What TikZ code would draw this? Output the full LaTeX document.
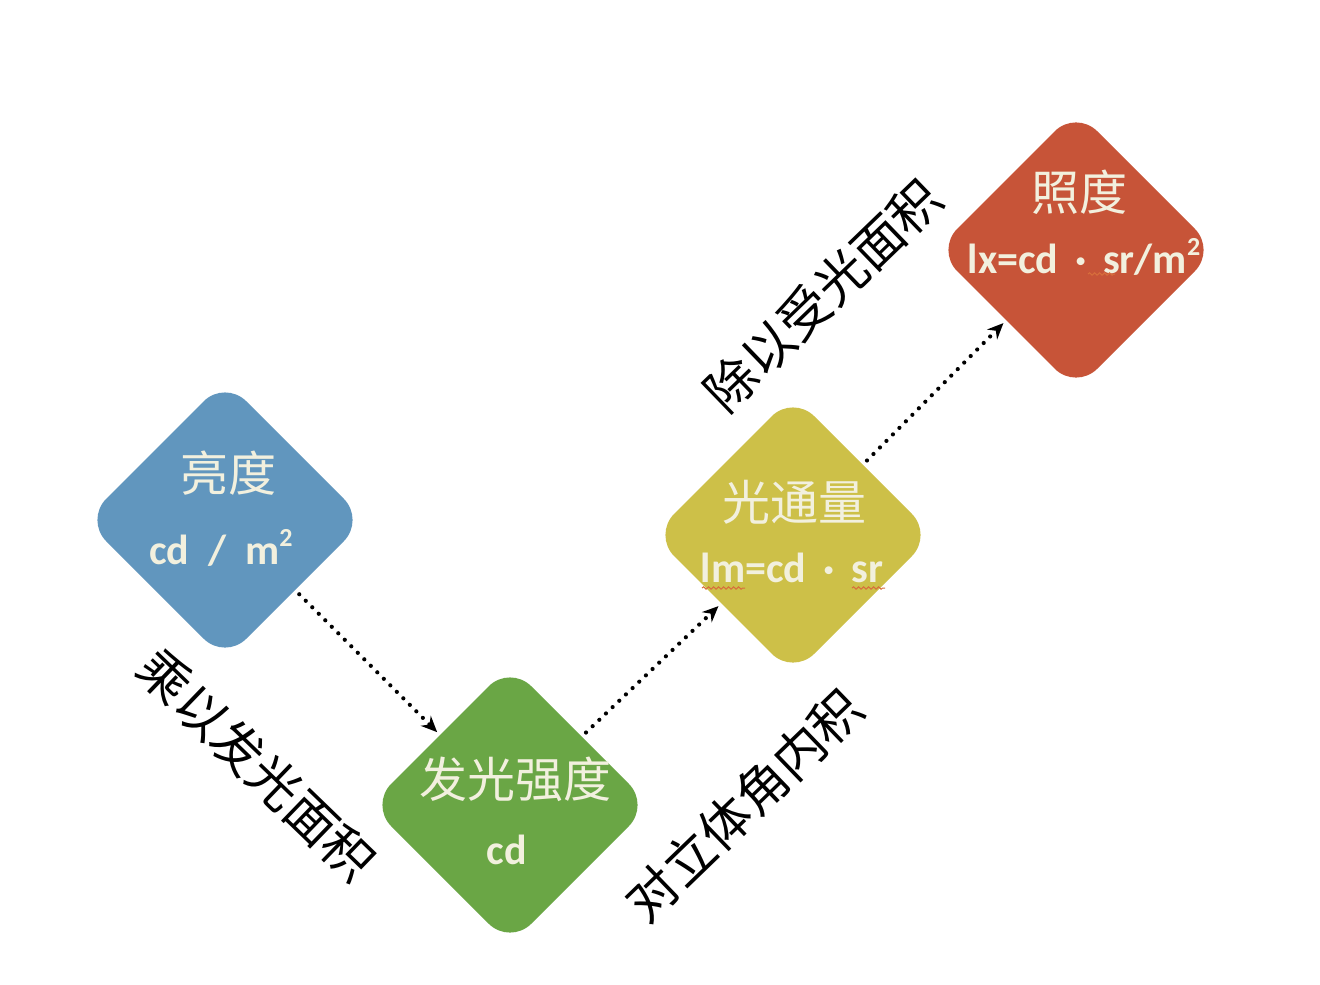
\documentclass[tikz,border=0pt]{standalone}
\usepackage{fontspec}
\setmainfont{Carlito}
\newfontfamily\cjk{Noto Sans CJK SC}
\usetikzlibrary{shapes.geometric,arrows.meta,decorations.pathmorphing}
\definecolor{cblue}{RGB}{97,150,190}
\definecolor{cgreen}{RGB}{106,166,69}
\definecolor{cyellow}{RGB}{205,192,72}
\definecolor{cred}{RGB}{199,84,56}
\definecolor{cream}{RGB}{242,240,222}
\definecolor{squigred}{RGB}{215,110,60}
\newcommand{\sqr}{\raisebox{0.42em}{\fontsize{13pt}{13pt}\selectfont 2}}
\begin{document}
\begin{tikzpicture}[x=0.5pt,y=-0.5pt,
  gem/.style={diamond, minimum width=140pt, minimum height=140pt, inner sep=0pt, outer sep=0pt, rounded corners=15pt},
  title/.style={text=cream, font=\cjk\fontsize{24pt}{28pt}\selectfont, inner sep=0pt},
  unit/.style={text=cream, font=\bfseries\fontsize{21pt}{24pt}\selectfont, inner sep=0pt},
  lab/.style={font=\cjk\fontsize{25.5pt}{30pt}\selectfont, inner sep=0pt},
  conn/.style={line width=2.1pt, dash pattern=on 0pt off 4.6pt, line cap=round, -{Stealth[length=8pt,width=7pt]}, shorten <=3pt, shorten >=2pt},
  squig/.style={draw=squigred, line width=0.5pt, decorate, decoration={snake, amplitude=0.6pt, segment length=2.5pt}}]
\useasboundingbox (0,0) rectangle (1320,984);
\fill[white] (0,0) rectangle (1320,984);
% diamonds
\node[gem, fill=cblue] (b) at (225,520) {};
\node[gem, fill=cgreen] (g) at (510,805) {};
\node[gem, fill=cyellow] (y) at (793,535) {};
\node[gem, fill=cred] (r) at (1076,250) {};
% texts
\node[title] (bt) at (228,473) {亮度};
\node[unit] (bu) at (221,548) {cd\hspace{0.45em}/\hspace{0.45em}m\sqr};
\node[title] (gt) at (515,779) {发光强度};
\node[unit] (gu) at (507,850) {cd};
\node[title] (yt) at (794,502) {光通量};
\node[unit] (yu) at (792,568) {lm=cd\hspace{0.4em}·\hspace{0.4em}sr};
\node[title] (rt) at (1079,192) {照度};
\node[unit] (ru) at (1084,257) {lx=cd\hspace{0.4em}·\hspace{0.4em}sr/m\sqr};
% squiggles
\draw[squig] (702,588) -- (745,588);
\draw[squig] (852,588) -- (885,588);
\draw[squig] (1088,274) -- (1115,274);
% rotated labels
\node[lab, rotate=-44] (l1) at (257,765) {乘以发光面积};
\node[lab, rotate=44] (l2) at (744,805) {对立体角内积};
\node[lab, rotate=44] (l3) at (823,295) {除以受光面积};
% connectors
\draw[conn] (b) -- (g);
\draw[conn] (g) -- (y);
\draw[conn] (y) -- (r);
\end{tikzpicture}
\end{document}
